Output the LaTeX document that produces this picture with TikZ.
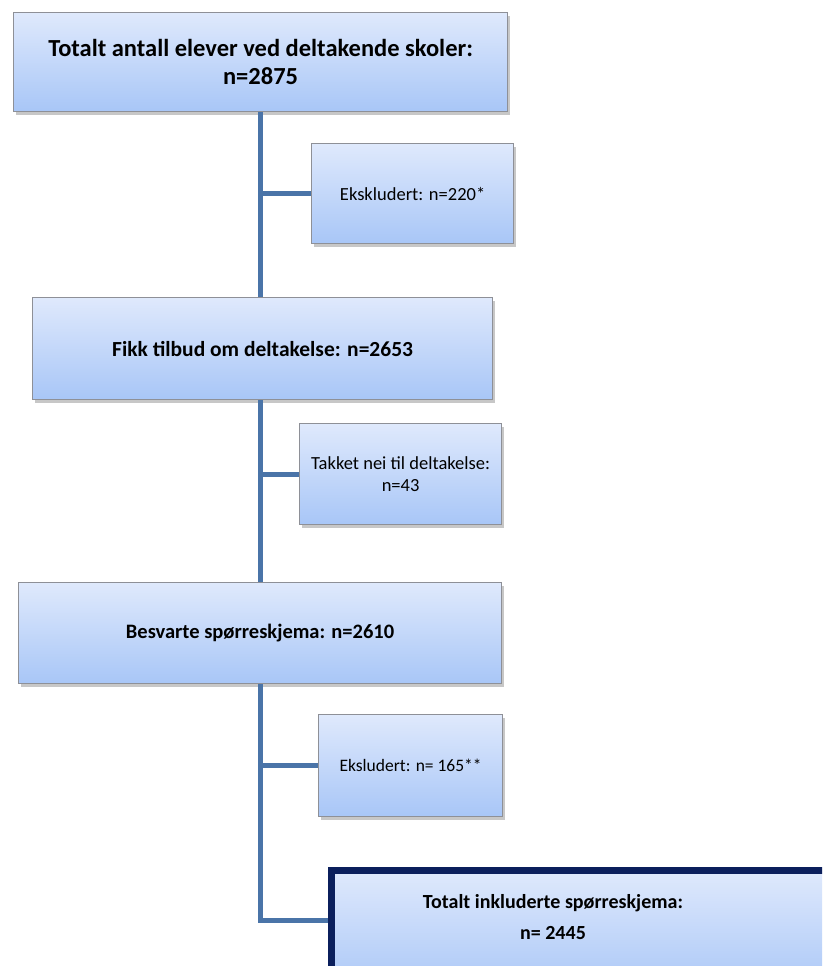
\documentclass[tikz,border=0pt]{standalone}
\usepackage{fontspec}
\setmainfont{Carlito}
\usetikzlibrary{shadows}
\definecolor{boxtop}{HTML}{DFE9FC}
\definecolor{boxbot}{HTML}{A8C6F7}
\definecolor{boxedge}{HTML}{8E9097}
\definecolor{linkcol}{HTML}{4A74A8}
\definecolor{navy}{HTML}{0B1F5C}
\tikzset{
  flowbox/.style={draw=boxedge, line width=1.2pt, top color=boxtop, bottom color=boxbot,
    anchor=north west, inner sep=0pt, align=center,
    drop shadow={shadow xshift=2pt, shadow yshift=-3pt, opacity=0.22, fill=black}},
  bigtxt/.style={font=\fontsize{21.5}{27}\selectfont\bfseries},
  smalltxt/.style={font=\fontsize{18.5}{22}\selectfont},
  link/.style={draw=linkcol, line width=5pt, line join=miter},
}
\begin{document}
\begin{tikzpicture}[x=1pt, y=-1pt]
\clip (0,0) rectangle (822,966);
\fill[white] (0,0) rectangle (822,966);
\coordinate (spine) at (260.5,0);
\node[flowbox, font=\fontsize{24.5}{28}\selectfont\bfseries, minimum width=494pt, minimum height=99pt] (b1) at (13,12)
  {Totalt antall elever ved deltakende skoler:\\n=2875};
\node[flowbox, smalltxt, minimum width=202pt, minimum height=100pt] (b2) at (311,143)
  {Ekskludert: n=220*};
\node[flowbox, bigtxt, minimum width=460pt, minimum height=102pt] (b3) at (32,297)
  {Fikk tilbud om deltakelse: n=2653};
\node[flowbox, smalltxt, minimum width=202pt, minimum height=101pt] (b4) at (299,423)
  {Takket nei til deltakelse:\\n=43};
\node[flowbox, font=\fontsize{20.5}{25}\selectfont\bfseries, minimum width=483pt, minimum height=101pt] (b5) at (18,582)
  {Besvarte spørreskjema: n=2610};
\node[flowbox, font=\fontsize{17.5}{22}\selectfont, minimum width=184pt, minimum height=102pt] (b6) at (318,714)
  {Eksludert: n= 165**};
\node[draw=navy, line width=7pt, top color=boxtop, bottom color=boxbot!80!boxtop,
  anchor=north west, minimum width=520pt, minimum height=100pt, inner sep=0pt] (b7) at (327.5,866.5) {};
\node[font=\fontsize{20}{31}\selectfont\bfseries, align=center] (t7) at (553,917)
  {Totalt inkluderte spørreskjema:\\n= 2445};
\draw[link] (b1.south -| spine) -- (b3.north -| spine);
\draw[link] (spine |- b2.west) -- (b2.west);
\draw[link] (b3.south -| spine) -- (b5.north -| spine);
\draw[link] (spine |- b4.west) -- (b4.west);
\draw[link] (b5.south -| spine) |- (b7.west);
\draw[link] (spine |- b6.west) -- (b6.west);
\end{tikzpicture}
\end{document}
